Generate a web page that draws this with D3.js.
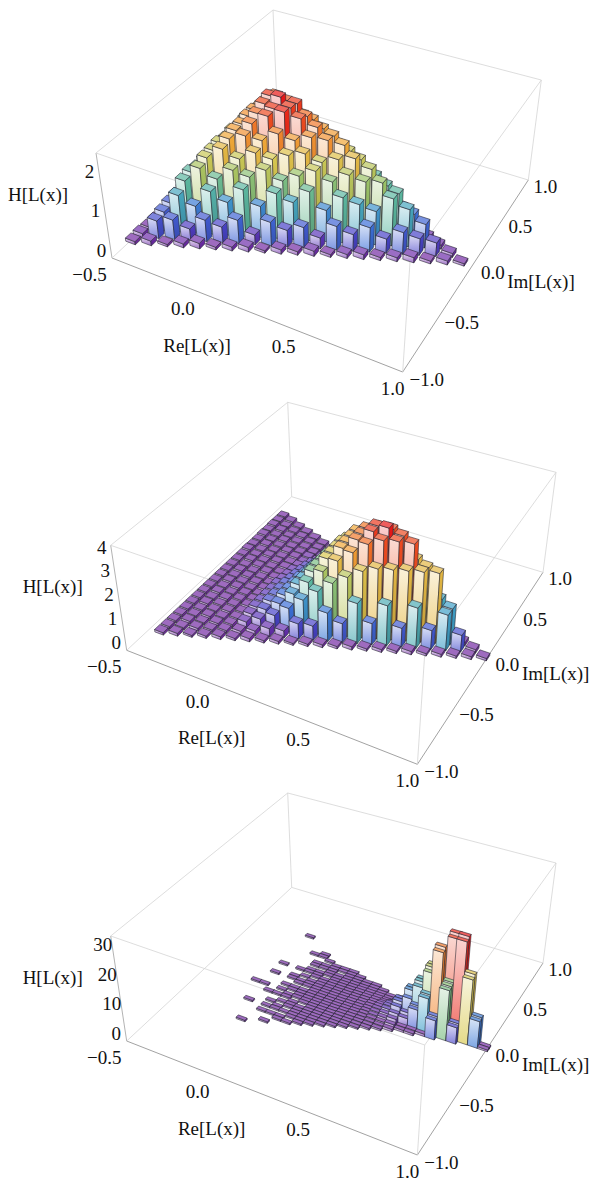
<!DOCTYPE html>
<html><head><meta charset="utf-8">
<style>html,body{margin:0;padding:0;background:#fff}svg{display:block}text{font-family:"Liberation Serif",serif;font-size:19px;fill:#111}</style>
<script src="https://cdn.jsdelivr.net/npm/d3@7/dist/d3.min.js"></script>
</head><body><svg id="c" width="591" height="1182"></svg>
<script>
const reTicks=[-0.5,0,0.5,1], imTicks=[-1,-0.5,0,0.5,1];
const axisLabels={z:"H[L(x)]",re:"Re[L(x)]",im:"Im[L(x)]"};
const zTicks1=[0,1,2], zTicks2=[0,1,2,3,4], zTicks3=[0,10,20,30];

// Panel 1 heights: rows parallel to the front edge of the triangle
const heights1=[
[.08,.12,.06,.1,.14,.07,.1,.12,.06,.11,.09,.13,.07,.1,.12,.08,.1,.13,.07,.1,.06],
[.1,.45,.5,.3,.55,.4,.6,.25,.6,.42,.52,.28,.6,.42,.62,.36,.55,.42,.34,.1],
[.08,.5,.95,.7,1.1,.85,1.2,.8,1.15,.95,1.25,.8,1.15,1.0,.85,1.2,.95,.6,.1],
[.09,.55,1.15,1.5,1.25,1.5,1.35,1.55,1.3,1.45,1.6,1.35,1.55,1.4,1.4,1.15,.65,.1],
[.07,.58,1.2,1.6,1.85,1.62,1.8,1.66,1.78,1.85,1.65,1.75,1.8,1.55,1.15,.62,.08],
[.1,.6,1.15,1.62,1.95,2.05,1.95,2.15,2.0,2.1,2.05,1.95,1.6,1.2,.58,.09],
[.08,.58,1.2,1.65,2.0,2.2,2.42,2.55,2.4,2.2,2.0,1.62,1.15,.6,.07],
[.07,.6,1.15,1.6,2.0,2.3,2.45,2.5,2.3,2.0,1.62,1.2,.58,.08],
[.09,.6,1.2,1.65,2.05,2.4,2.6,2.45,2.05,1.65,1.18,.58,.07],
[.08,.58,1.18,1.6,2.05,2.45,2.35,2.0,1.62,1.2,.62,.08],
[.07,.6,1.2,1.65,2.0,2.3,2.0,1.6,1.15,.58,.07],
[.08,.58,1.15,1.55,2.0,1.98,1.58,1.2,.62,.08],
[.07,.58,1.2,1.55,1.95,1.6,1.15,.58,.07],
[.08,.62,1.15,1.5,1.5,1.2,.58,.08],
[.07,.58,1.18,1.5,1.15,.6,.07],
[.08,.58,1.1,1.12,.58,.08],
[.07,.6,1.05,.58,.07],
[.08,.55,.55,.08],
[.07,.5,.07],
[.08,.07],
[.07]];

// Panel 2 heights
const heights2=[
[.1,.12,.08,.1,.12,.1,.14,.1,.12,.08,.1,.12,.1,.14,.1,.12,.1,.14,.1,.12,.1,.12,.1],
[.1,.1,.12,.1,.12,.14,.2,.35,.3,.65,.6,1.2,.8,1.7,.9,1.7,.8,1.7,.8,1.5,.7,.15],
[.1,.12,.1,.12,.12,.28,.45,.65,1.0,1.4,1.8,2.2,2.5,2.8,2.95,2.95,2.95,2.95,2.95,1.5,.15],
[.1,.1,.12,.1,.12,.36,.6,.9,1.35,1.9,2.4,2.9,3.3,3.7,3.9,3.9,3.85,2.9,1.6,.15],
[.1,.1,.1,.12,.12,.4,.7,1.0,1.5,2.1,2.7,3.2,3.6,4.0,4.2,3.9,2.95,1.7,.15],
[.1,.12,.1,.12,.14,.4,.7,1.0,1.5,2.1,2.7,3.2,3.6,4.0,3.9,2.95,1.7,.15],
[.1,.1,.12,.12,.14,.4,.7,1.0,1.5,2.1,2.7,3.2,3.6,3.7,2.95,1.7,.15],
[.1,.12,.1,.12,.12,.4,.7,1.0,1.5,2.1,2.7,3.2,3.3,2.8,1.6,.14],
[.1,.1,.12,.1,.14,.4,.65,.95,1.45,2.0,2.6,2.9,2.4,1.4,.14],
[.1,.12,.1,.12,.12,.36,.6,.9,1.35,1.9,2.4,2.0,1.1,.13],
[.1,.1,.12,.1,.14,.32,.55,.85,1.25,1.8,1.6,.9,.13],
[.1,.12,.1,.12,.12,.28,.48,.7,1.1,1.1,.65,.12],
[.1,.1,.12,.1,.14,.25,.4,.55,.75,.5,.12],
[.1,.12,.1,.12,.12,.18,.26,.34,.3,.12],
[.1,.1,.12,.1,.14,.18,.22,.2,.12],
[.12,.1,.1,.12,.12,.14,.14,.1],
[.1,.12,.1,.1,.12,.12,.1],
[.1,.1,.12,.1,.12,.1],
[.12,.1,.1,.12,.1],
[.1,.12,.1,.1],
[.12,.1,.1],
[.1,.12],
[.1]];

// Panel 3: columns in Re, each running from the front Im row to the back
const columns3=[8,9,10,11,12,13,14,15,16,17,18,19,20,21,22,23,24,25,26,27,28,29];
const starts3=[-12,-13,-14,-14,-13,-12,-11,-10,-9,-8,-7,-6,-5,-4,-4,-3,-3,-2,-2,-1,-1,-1];
const heights3=[
[0,.5,0,.5,0,0,.5,0,.5,0,.5,0,0,.5,.5,0,0,.5],
[.5,0,.5,.5,0,.5,0,.5,.5,0,.5,.5,0,.5,.5,0,.5,0,.5,.5,0,.5],
[.5,.5,0,.5,0,.5,.5,.5,0,.5,.5,.5,.5,0,.5,.5,.5,0,.5,.5,.5,0,.5,.5,0,.5],
[.5,0,.5,.5,.5,.5,.5,0,.5,.5,.5,.5,.5,.5,.5,.5,.5,.5,.5,0,.5,.5,.5,.5,.5,0],
[.5,.5,.5,.5,.5,.5,.5,.5,.5,.5,.5,.5,.5,.5,.5,.5,.5,.5,.5,.5,.5,0,.5,.5],
[.5,.5,.5,.5,.5,.5,.5,.5,.5,.5,.5,.5,.5,.5,.5,.5,.5,.5,.5,.5,.5,.5,.5],
[.5,.5,.5,.5,.5,.5,.5,.5,.5,.5,.5,.5,.5,.5,.5,.5,.5,.5,.5,.5,.5],
[.5,.5,.5,.5,.6,.6,.6,.6,.6,.6,.6,.6,.6,.6,.6,.6,.5,.5,.5],
[.5,.5,.6,.6,.7,.7,.7,.7,.7,.7,.7,.7,.7,.6,.6,.5,.5,.5],
[.5,.6,.7,.7,.8,.9,1,1,1,1,.9,.8,.7,.6,.5,.5],
[.6,.7,.9,1.2,1.5,1.8,2,2,1.8,1.4,1,.7,.5,.5],
[.6,.8,1.2,1.8,2.4,3,3.2,3,2.4,1.6,1,.6,.5],
[.8,1.5,2.5,3.5,5,6,6,5,3,1.2,.6],
[.7,.8,3,4,8,10,10,6,3,1.5,.8],
[.7,.9,7,7.5,13,14,14,6,2,.8],
[.8,12,12.5,19,20,20,8,2,.7],
[6.5,7,28,29,10,3,1],
[17,17.5,18,32,33,3,1],
[5.5,6,33,34,2],
[22,23,1],
[9,9.5],
[.6,.6]];
// isolated low cells in panel 3
const scatterCols3=[5,6,6,6,6,6,7,7,8,8,9,9,9,9];
const scatterRows3=[-4,-11,-4,1,5,18,-18,-6,-13,12,13,12,-16,9];
const scatterHeights3=[.5,.5,.5,.5,.5,.5,.5,.5,.5,.5,.5,.5,.5,.5];

const panels=[
 {dx:0,dy:0,zMax:2.66,zTicks:zTicks1,dRe:.056,dIm:.058,kind:"tri",rows:heights1,N:20,re0:-.49,re1:.94,imH:.8},
 {dx:14.7,dy:392.3,zMax:4.41,zTicks:zTicks2,dRe:.05,dIm:.056,kind:"tri",rows:heights2,N:22,re0:-.44,re1:.98,imH:.745},
 {dx:14.7,dy:783,zMax:35.6,zTicks:zTicks3,dRe:.05,dIm:.026,kind:"grid"}
];
const floorQ=[[112,258],[402.7,372],[528.3,180],[277,104.4]];
const ceilQ=[[96,153],[410,262],[541.3,80],[273,10]];

function quad(p){const [[x0,y0],[x1,y1],[x2,y2],[x3,y3]]=p;
 const dx1=x1-x2,dx2=x3-x2,sx=x0-x1+x2-x3,dy1=y1-y2,dy2=y3-y2,sy=y0-y1+y2-y3,den=dx1*dy2-dx2*dy1;
 const g=(sx*dy2-dx2*sy)/den,h=(dx1*sy-sx*dy1)/den;
 const a=x1-x0+g*x1,b=x3-x0+h*x3,d=y1-y0+g*y1,e=y3-y0+h*y3;
 return (u,v)=>{const w=g*u+h*v+1;return [(a*u+b*v+x0)/w,(d*u+e*v+y0)/w];};}
const fl=quad(floorQ),ce=quad(ceilQ);
const xS=d3.scaleLinear().domain([-0.5,1]).range([0,1]);
const yS=d3.scaleLinear().domain([-1,1]).range([0,1]);
const hue=d3.scaleLinear().domain([0,.07,.14,.25,.35,.45,.55,.65,.75,.87,1])
 .range(["#7a2a9e","#6a30b0","#4a40c8","#3c6fd8","#40a0c8","#5cb8a0","#9cc468","#d8c850","#f0a838","#f07028","#e81818"]);
const white=d3.interpolateRgb;
const fmt=v=>(v<0?"\u2212":"")+Math.abs(v).toFixed(1);
const svg=d3.select("#c");
const line=d3.line();
const defs=svg.append("defs");
const LV=40;
d3.range(LV+1).forEach(i=>{const c=hue(i/LV);
 const w=defs.append("linearGradient").attr("id","w"+i).attr("x1",0).attr("y1",0).attr("x2",0).attr("y2",1);
 w.append("stop").attr("offset",0).attr("stop-color",white(c,"#fff")(.8));
 w.append("stop").attr("offset",1).attr("stop-color",white(c,"#fff")(.32));
 const s=defs.append("linearGradient").attr("id","s"+i).attr("x1",0).attr("y1",0).attr("x2",0).attr("y2",1);
 s.append("stop").attr("offset",0).attr("stop-color",c);
 s.append("stop").attr("offset",1).attr("stop-color",d3.color(c).darker(.5).formatHex());
});

panels.forEach((P,pi)=>{
 const g=svg.append("g").attr("class","panel"+pi);
 const zS=d3.scaleLinear().domain([0,P.zMax]).range([0,1]);
 const pr=(re,im,z)=>{const u=xS(re),v=yS(im),a=fl(u,v),b=ce(u,v),t=zS(z);
   return [a[0]+(b[0]-a[0])*t+P.dx,a[1]+(b[1]-a[1])*t+P.dy];};
 const box=[[-.5,-1,0,1,-1,0,"#8a8a8a"],[1,-1,0,1,1,0,"#8a8a8a"],[-.5,-1,0,-.5,-1,P.zMax,"#a0a0a0"],
  [1,1,0,-.5,1,0,"#d4d4d4"],[-.5,1,0,-.5,-1,0,"#d4d4d4"],[-.5,1,0,-.5,1,P.zMax,"#d4d4d4"],
  [1,1,0,1,1,P.zMax,"#d4d4d4"],[1,-1,0,1,-1,P.zMax,"#d4d4d4"],
  [-.5,-1,P.zMax,1,-1,P.zMax,"#d4d4d4"],[1,-1,P.zMax,1,1,P.zMax,"#d4d4d4"],
  [1,1,P.zMax,-.5,1,P.zMax,"#d4d4d4"],[-.5,1,P.zMax,-.5,-1,P.zMax,"#d4d4d4"]];
 g.selectAll("line.b").data(box).join("line").attr("class","b")
  .attr("x1",d=>pr(d[0],d[1],d[2])[0]).attr("y1",d=>pr(d[0],d[1],d[2])[1])
  .attr("x2",d=>pr(d[3],d[4],d[5])[0]).attr("y2",d=>pr(d[3],d[4],d[5])[1])
  .attr("stroke",d=>d[6]).attr("stroke-width",.8);
 let bars=[];
 if(P.kind==="tri"){
  P.rows.forEach((row,r)=>row.forEach((h,s)=>{
    bars.push({re:P.re0+(P.re1-P.re0)*s/P.N,im:-P.imH+P.imH*s/P.N+2*P.imH*r/P.N,h});}));
 } else {
  const cell=(k,row,h)=>{ if(h>0) bars.push({re:-.49+.05*(k+.5),im:(row+.5)*.0275,h}); };
  columns3.forEach((k,i)=>heights3[i].forEach((h,j)=>cell(k,starts3[i]+j,h)));
  scatterCols3.forEach((k,i)=>cell(k,scatterRows3[i],scatterHeights3[i]));
 }
 const maxH=d3.max(bars,d=>d.h);
 bars.forEach(b=>{b.sy=pr(b.re,b.im,0)[1]; b.lv=Math.round(b.h/maxH*LV);});
 bars.sort((a,b)=>a.sy-b.sy);
 const sel=g.selectAll("g.bar").data(bars).join("g").attr("class","bar").attr("stroke","#20202a").attr("stroke-width",.55).attr("stroke-linejoin","round");
 const corners=d=>({x0:d.re-P.dRe/2,x1:d.re+P.dRe/2,y0:d.im-P.dIm/2,y1:d.im+P.dIm/2});
 sel.append("path").attr("d",d=>{const c=corners(d);return line([pr(c.x0,c.y0,0),pr(c.x1,c.y0,0),pr(c.x1,c.y0,d.h),pr(c.x0,c.y0,d.h)])+"Z";}).attr("fill",d=>`url(#w${d.lv})`);
 sel.append("path").attr("d",d=>{const c=corners(d);return line([pr(c.x1,c.y0,0),pr(c.x1,c.y1,0),pr(c.x1,c.y1,d.h),pr(c.x1,c.y0,d.h)])+"Z";}).attr("fill",d=>`url(#s${d.lv})`);
 sel.append("path").attr("d",d=>{const c=corners(d);return line([pr(c.x0,c.y0,d.h),pr(c.x1,c.y0,d.h),pr(c.x1,c.y1,d.h),pr(c.x0,c.y1,d.h)])+"Z";}).attr("fill",d=>white(hue(d.lv/LV),"#fff")(.3));
 const lab=(cls,data,pos,txt)=>g.selectAll("text."+cls).data(data).join("text").attr("class",cls)
   .attr("text-anchor","middle").attr("dominant-baseline","central")
   .attr("x",d=>pos(d)[0]).attr("y",d=>pos(d)[1]).text(txt);
 lab("re",reTicks,d=>{const p=pr(d,-1,0),f=xS(d);return [p[0]-22.5+12.5*f,p[1]+16];},fmt);
 lab("im",imTicks,d=>{const p=pr(1,d,0),f=yS(d);return [p[0]+24-7*f,p[1]+7-1*f];},fmt);
 lab("z",P.zTicks,d=>{const p=pr(-.5,-1,d);return [p[0]-10.5,p[1]-8];},d=>String(d));
 g.append("text").attr("text-anchor","middle").attr("dominant-baseline","central").attr("x",38+P.dx).attr("y",194+P.dy).text(axisLabels.z);
 g.append("text").attr("text-anchor","middle").attr("dominant-baseline","central").attr("x",197+P.dx).attr("y",345+P.dy).text(axisLabels.re);
 g.append("text").attr("text-anchor","middle").attr("dominant-baseline","central").attr("x",541+P.dx).attr("y",281+P.dy).text(axisLabels.im);
});
</script></body></html>
